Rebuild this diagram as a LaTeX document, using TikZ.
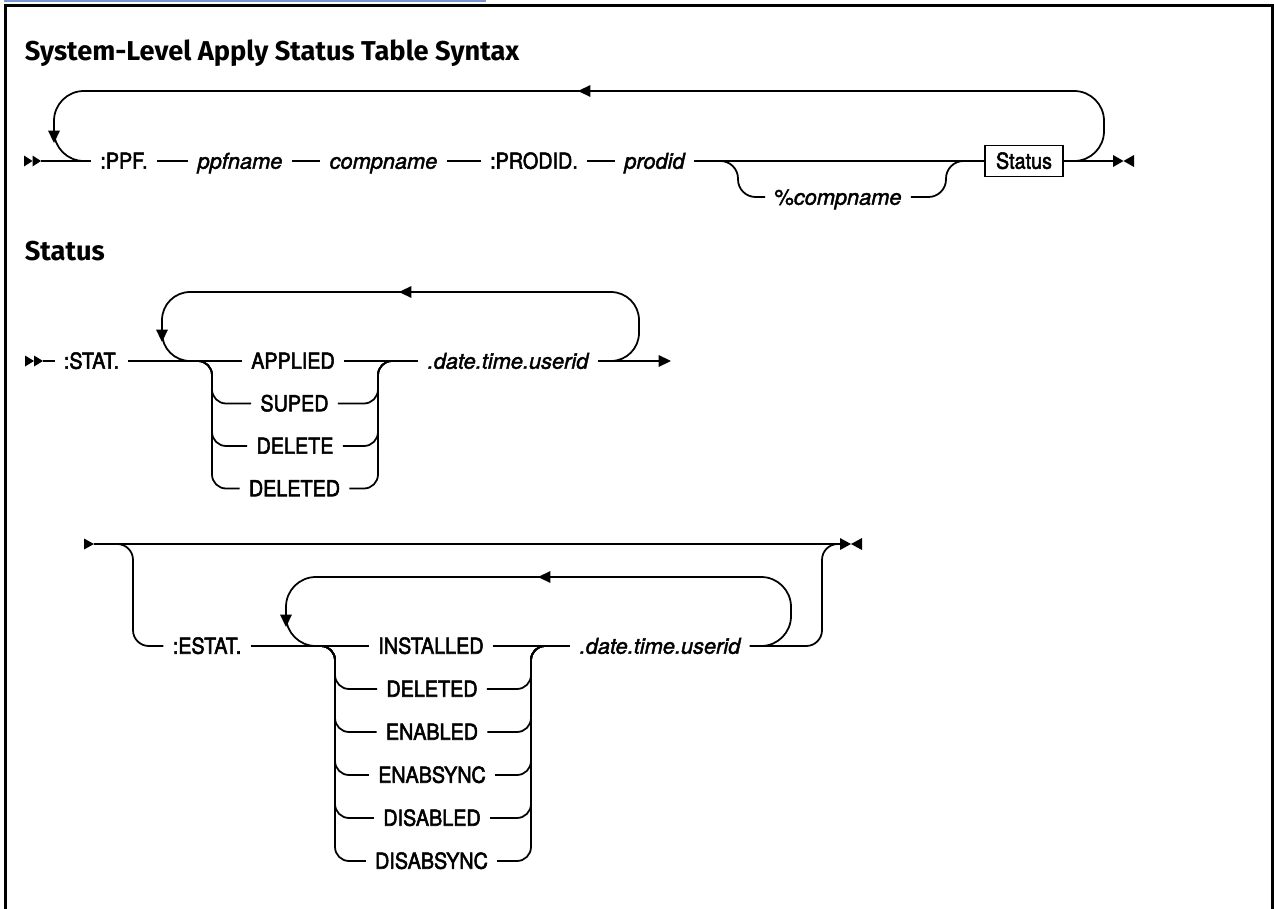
\documentclass[tikz,border=0pt]{standalone}
\usepackage{fontspec}
\setmainfont{TeX Gyre Heros}
\newfontfamily\kwface[FakeStretch=0.9,FakeBold=2.4]{TeX Gyre Heros}
\newfontfamily\varface[FakeBold=1.8]{TeX Gyre Heros}
\newfontfamily\headface{Fira Sans}
\usetikzlibrary{arrows.meta}
\definecolor{linkblue}{RGB}{120,150,210}
\newcommand\kwfont{\kwface\fontsize{12.5}{15}\selectfont}
\newcommand\varfont{\varface\fontsize{12.4}{15}\selectfont\itshape}
\newcommand\headfont{\headface\bfseries\fontsize{15.5}{18}\selectfont}
\tikzset{
  rail/.style={line width=1pt},
  kw/.style={font=\kwfont, inner xsep=4.8pt, inner ysep=0pt, text height=8.8pt, text depth=0pt},
  var/.style={kw, font=\varfont},
  head/.style={font=\headfont, anchor=base west, inner sep=0pt},
  tip/.style={-{Triangle[length=7pt,width=6.5pt]}},
}
\begin{document}
\begin{tikzpicture}[x=0.2mm,y=-0.2mm,rail]
\useasboundingbox (0,0) rectangle (1274,909);
% frame and cut link
\draw[line width=1.4pt] (5.5,915) -- (5.5,5.5) -- (1272.5,5.5) -- (1272.5,915);
\draw[line width=1pt, linkblue] (4,1) -- (486,1);
\node[head] (title) at (24,60) {System-Level Apply Status Table Syntax};
\node[head] (statushd) at (24,260) {Status};

% main syntax line
\fill (24,155.5) -- (32.5,161) -- (24,166.5) -- cycle;
\fill (32.5,155.5) -- (41,161) -- (32.5,166.5) -- cycle;
\coordinate (start1) at (41,161);
\node[kw] (ppf) at (124,161) {:PPF.};
\node[var] (ppfname) at (240,161) {ppfname};
\node[var] (compname) at (383.5,161) {compname};
\node[kw] (prodidkw) at (534,161) {:PRODID.};
\node[var] (prodid) at (654.5,161) {prodid};
\node[var] (pctcomp) at (838,197) {{\upshape\%}compname};
\node[kw, draw, line width=0.9pt, minimum width=44.4pt, minimum height=17.6pt] (statusbox) at (1024,161) {Status};
\coordinate (end1) at (1113,161);
\fill (1113,155) -- (1123.5,161) -- (1113,167) -- cycle;
\fill (1134,155) -- (1123.5,161) -- (1134,167) -- cycle;
\draw (start1) -- (ppf) -- (ppfname) -- (compname) -- (prodidkw) -- (prodid) -- (statusbox) -- (end1);
\coordinate (opt1) at (725,161);
\coordinate (opt2) at (960,161);
\draw[rounded corners=10] (opt1) -| (738,197) -- (pctcomp);
\draw[rounded corners=10] (pctcomp) -| (946,161) -- (opt2);
\draw[rounded corners=17] (1080,161) -| (1104,91) -| (54,161) -- (85,161);
\draw[tip] (600,91) -- (578,91);
\draw[tip] (54,125) -- (54,143);

% Status, first part
\fill (25,355.5) -- (34,361) -- (25,366.5) -- cycle;
\fill (34,355.5) -- (43,361) -- (34,366.5) -- cycle;
\coordinate (start2) at (43,361);
\node[kw] (stat) at (91.5,361) {:STAT.};
\node[kw] (applied) at (293,361) {APPLIED};
\node[kw] (suped) at (294.5,403.5) {SUPED};
\node[kw] (delete) at (295,446) {DELETE};
\node[kw] (deleted) at (294.5,488.5) {DELETED};
\node[var] (sdate) at (508,361) {.date.time.userid};
\coordinate (end2) at (671,361);
\coordinate (b1l) at (212,361);
\coordinate (b1r) at (378,361);
\draw (start2) -- (stat) -- (applied) -- (sdate);
\draw[tip] (sdate) -- (end2);
\foreach \n in {suped,delete,deleted} {
  \draw[rounded corners=8] (200,361) -| (b1l |- \n) -- (\n);
  \draw[rounded corners=8] (\n) -| (b1r) -- (390,361);
}
\draw[rounded corners=16] (610,361) -| (639,292) -| (162,361) -- (190,361);
\draw[tip] (420,292) -- (399,292);
\draw[tip] (162,325) -- (162,342);

% Status, second part
\fill (84,538.5) -- (94,544) -- (84,549.5) -- cycle;
\coordinate (start3) at (94,544);
\coordinate (end3) at (840,544);
\draw (start3) -- (end3);
\fill (840,538) -- (851,544) -- (840,550) -- cycle;
\fill (862,538) -- (851,544) -- (862,550) -- cycle;
\node[kw] (estat) at (207,646) {:ESTAT.};
\node[kw] (installed) at (431,646) {INSTALLED};
\node[kw] (edeleted) at (432,689) {DELETED};
\node[kw] (enabled) at (432,732) {ENABLED};
\node[kw] (enabsync) at (432,775) {ENABSYNC};
\node[kw] (disabled) at (432,818) {DISABLED};
\node[kw] (disabsync) at (431.5,861) {DISABSYNC};
\node[var] (edate) at (660,646) {.date.time.userid};
\coordinate (b2l) at (335,646);
\coordinate (b2r) at (531,646);
\draw[rounded corners=9] (120,544) -| (133,646) -- (estat);
\draw (estat) -- (installed) -- (edate);
\draw[rounded corners=9] (edate) -| (822,544) -- (835,544);
\foreach \n in {edeleted,enabled,enabsync,disabled,disabsync} {
  \draw[rounded corners=8] (323,646) -| (b2l |- \n) -- (\n);
  \draw[rounded corners=8] (\n) -| (b2r) -- (543,646);
}
\draw[rounded corners=17] (760,646) -| (791,577) -| (286,646) -- (315,646);
\draw[tip] (560,577) -- (538,577);
\draw[tip] (286,610) -- (286,627);
\end{tikzpicture}
\end{document}
